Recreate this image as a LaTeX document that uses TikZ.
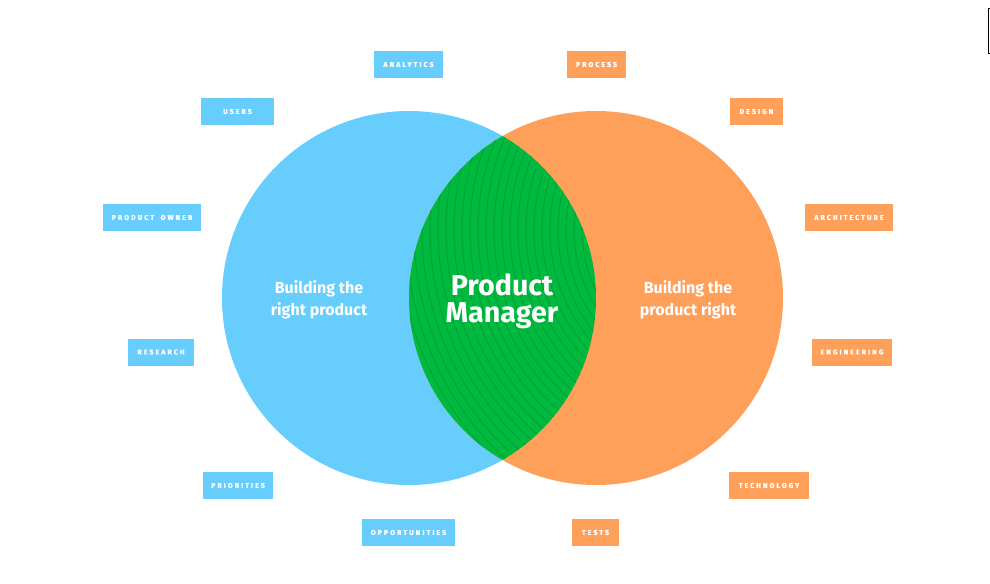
\documentclass[tikz,border=0pt]{standalone}
\usepackage{fontspec}
\setmainfont{Fira Sans}
\newfontfamily\tagfont[LetterSpace=30,FakeBold=1.4]{Fira Sans}
\definecolor{pmblue}{HTML}{66CDFD}
\definecolor{pmorange}{HTML}{FEA05A}
\definecolor{pmgreen}{HTML}{00BA3F}
\definecolor{pmline}{HTML}{00A537}

\begin{document}
\begin{tikzpicture}[x=0.75pt, y=-0.75pt,
  tag/.style = {text=white, inner xsep=0pt, minimum height=20.25pt, font=\tagfont\bfseries\fontsize{5.2}{6}\selectfont},
  bluetag/.style = {tag, fill=pmblue},
  orangetag/.style = {tag, fill=pmorange},
  side/.style = {text=white, align=center, font=\bfseries\fontsize{12}{16.5}\selectfont}]
\useasboundingbox (0,0) rectangle (990,583);
\fill[pmblue] (409,298) circle (187);
\fill[pmorange] (596,298) circle (187);
\begin{scope}
\clip (409,298) circle (187);
\clip (596,298) circle (187);
\fill[pmgreen] (409,110) rectangle (596,486);
\foreach \r in {130,138,...,346}
  \draw[pmline, line width=0.8pt] (720,230) circle (\r);
\end{scope}
\node[side] (left) at (319,300) {Building the\\right product};
\node[side] (right) at (688,300) {Building the\\product right};
\node[text=white, align=center, font=\bfseries\fontsize{21.5}{20}\selectfont] (pm) at (502,301) {Product\\Manager};
% left side
\node[bluetag, minimum width=51.75pt] (analytics) at (408.5,64.5) {ANALYTICS};
\node[bluetag, minimum width=54.75pt] (users) at (237.5,111.5) {USERS};
\node[bluetag, minimum width=73.5pt] (owner) at (152,217.5) {PRODUCT\hspace{5pt}OWNER};
\node[bluetag, minimum width=49.5pt] (research) at (161,352) {RESEARCH};
\node[bluetag, minimum width=52.5pt] (priorities) at (238,485.5) {PRIORITIES};
\node[bluetag, minimum width=69.75pt] (opportunities) at (408.5,532.5) {OPPORTUNITIES};
% right side
\node[orangetag, minimum width=44.25pt] (process) at (596.5,64.5) {PROCESS};
\node[orangetag, minimum width=39.75pt] (design) at (756.5,111.5) {DESIGN};
\node[orangetag, minimum width=66pt] (architecture) at (849,217.5) {ARCHITECTURE};
\node[orangetag, minimum width=60pt] (engineering) at (852,352) {ENGINEERING};
\node[orangetag, minimum width=60pt] (technology) at (769,485.5) {TECHNOLOGY};
\node[orangetag, minimum width=35.25pt] (tests) at (595.5,532.5) {TESTS};
\draw[line width=0.7pt] (993,8) -- (988.5,8) -- (988.5,53) -- (993,53);
\end{tikzpicture}
\end{document}
